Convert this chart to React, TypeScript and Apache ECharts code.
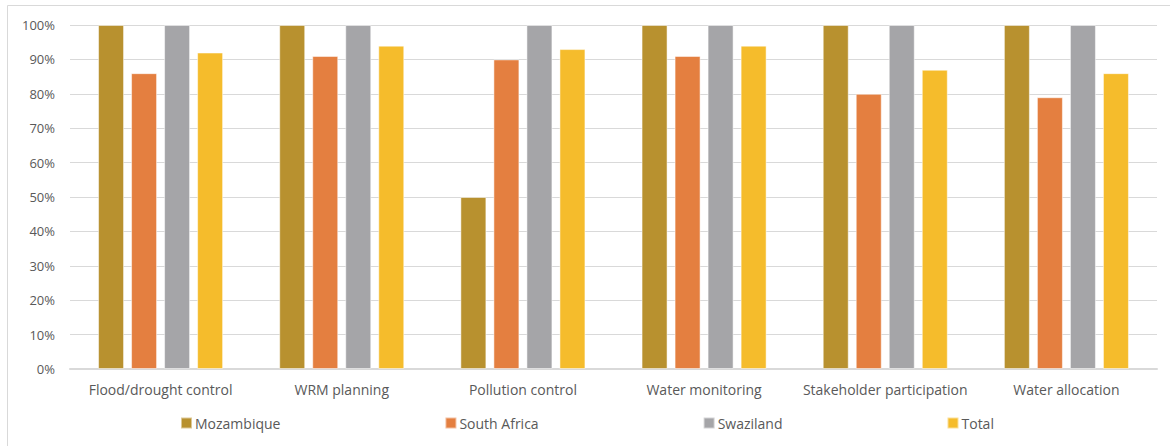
import React, { useEffect, useRef } from "react";
import * as echarts from "echarts";

const categories = [
  "Flood/drought control",
  "WRM planning",
  "Pollution control",
  "Water monitoring",
  "Stakeholder participation",
  "Water allocation",
];
const mozambique = [100, 100, 50, 100, 100, 100];
const southAfrica = [86, 91, 90, 91, 80, 79];
const swaziland = [100, 100, 100, 100, 100, 100];
const total = [92, 94, 93, 94, 87, 86];

const seriesNames = ["Mozambique", "South Africa", "Swaziland", "Total"];
const colors = ["#B8912F", "#E47F40", "#A5A5A8", "#F5BC2C"];

export default function App() {
  const ref = useRef<HTMLDivElement>(null);
  useEffect(() => {
    if (!ref.current) return;
    const chart = echarts.init(ref.current, null, { renderer: "svg" });
    const font = "'Open Sans', 'Liberation Sans', sans-serif";
    const data = [mozambique, southAfrica, swaziland, total];
    chart.setOption({
      animation: false,
      backgroundColor: "#ffffff",
      textStyle: { fontFamily: font },
      graphic: [
        {
          type: "rect",
          shape: { x: 7.5, y: 5.5, width: 1200, height: 500 },
          style: { fill: "none", stroke: "#D9D9D9", lineWidth: 1 },
          silent: true,
        },
      ],
      grid: { left: 70, right: 13, top: 25, bottom: 77 },
      legend: {
        data: seriesNames,
        left: 180,
        top: 416,
        padding: 0,
        itemWidth: 11,
        itemHeight: 11,
        itemGap: 164,
        icon: "rect",
        textStyle: { color: "#595959", fontSize: 14, fontFamily: font, padding: [0, 0, 0, -2] },
      },
      xAxis: {
        type: "category",
        data: categories,
        axisLine: { lineStyle: { color: "#D9D9D9", width: 2 } },
        axisTick: { show: false },
        axisLabel: { color: "#595959", fontSize: 14, margin: 13, interval: 0, fontFamily: font },
      },
      yAxis: {
        type: "value",
        min: 0,
        max: 100,
        interval: 10,
        axisLine: { show: false },
        axisTick: { show: false },
        splitLine: { lineStyle: { color: "#D9D9D9", width: 1 } },
        axisLabel: {
          color: "#595959",
          fontSize: 13,
          margin: 15,
          fontFamily: font,
          formatter: (v: number) => v + "%",
        },
      },
      series: seriesNames.map((name, i) => ({
        name,
        type: "bar",
        data: data[i],
        barWidth: 26,
        barGap: "27%",
        itemStyle: { color: colors[i], borderColor: "rgba(255,255,255,0.5)", borderWidth: 1 },
      })),
    });
    return () => chart.dispose();
  }, []);
  return (
    <div
      ref={ref}
      style={{ position: "absolute", left: 0, top: 0, width: 1170, height: 446 }}
    />
  );
}
